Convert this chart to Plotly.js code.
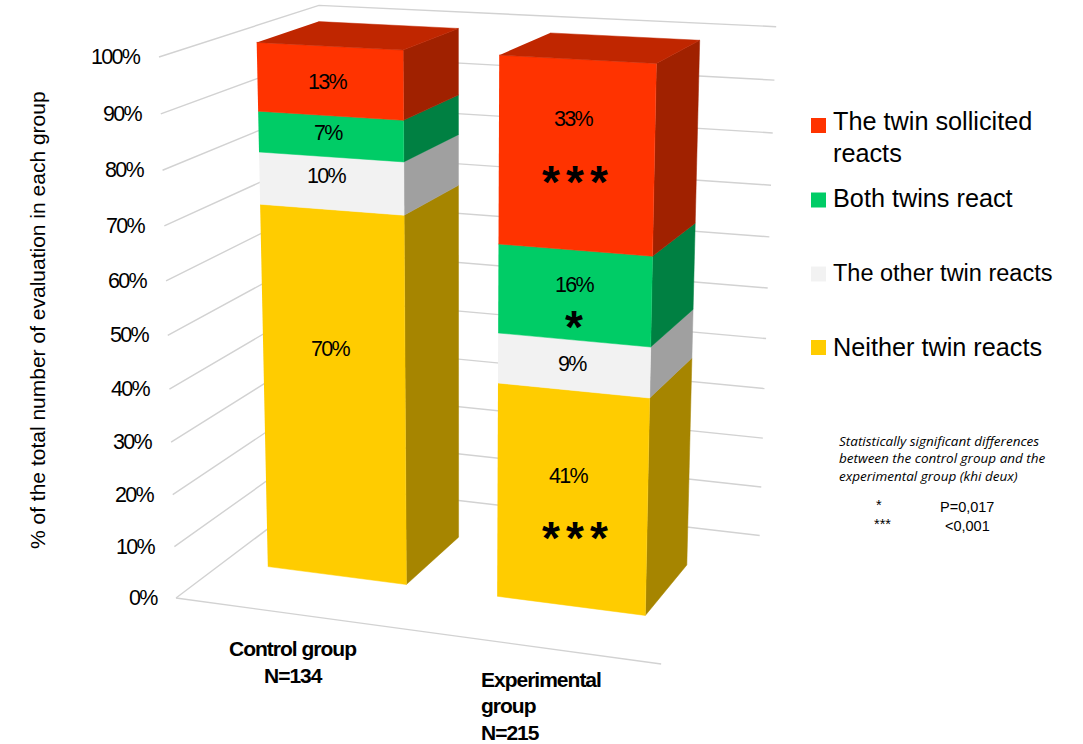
<!DOCTYPE html>
<html>
<head>
<meta charset="utf-8">
<script src="https://cdn.plot.ly/plotly-3.0.1.min.js"></script>
<style>html,body{margin:0;padding:0;background:#fff}#chart{width:1083px;height:744px}</style>
</head>
<body>
<div id="chart"></div>
<script>
// ---- data ----
const seriesNames = ['Neither twin reacts', 'The other twin reacts', 'Both twins react', 'The twin sollicited reacts'];
const controlValues = [70.3, 9.7, 7.5, 12.5];
const experimentalValues = [40.8, 9.3, 16.3, 33.6];
const controlLabels = ['70%', '10%', '7%', '13%'];
const experimentalLabels = ['41%', '9%', '16%', '33%'];
const percentTicks = [0, 10, 20, 30, 40, 50, 60, 70, 80, 90, 100];

// ---- style / layout constants ----
const frontColors = ['#FFCC00', '#F2F2F2', '#00CC66', '#FF3300'];
const sideColors = ['#A68500', '#A0A0A0', '#008042', '#A02100'];
const topColor = '#C02600';
const gridColor = '#D2D2D2';
const barCentres = [0.25, 0.75], barHalfWidth = 0.153, depthNear = 0.3, depthFar = 0.7;
const fontMain = '"Liberation Sans", Arial, sans-serif';
const tight = (s, px) => '<span style="letter-spacing:' + px + 'px">' + s + '</span>';

// Camera: X along the categories (0..1), T = percent / 100, Z depth (0..1)
function project(X, pct, Z) {
  const t = pct / 100;
  const w = -0.0674 * X + 0.134 * Z - 0.056 * t + 1;
  return [(440.6 * X + 193.7 * Z - 25.9 * t + 176) / w,
          (21.2 * X - 48 * Z - 544.2 * t + 598) / w];
}
function poly(points, color, name) {
  const p = points.map(a => project(a[0], a[1], a[2]));
  return {x: p.map(q => q[0]), y: p.map(q => q[1]), mode: 'lines', fill: 'toself', fillcolor: color,
          line: {color: color, width: 0.5}, hoverinfo: 'skip', showlegend: false, name: name};
}

const traces = [];
// wall grid lines
percentTicks.forEach(v => {
  const pts = [project(0, v, 0), project(0, v, 1), project(1, v, 1)];
  traces.push({x: pts.map(p => p[0]), y: pts.map(p => p[1]), mode: 'lines',
               line: {color: gridColor, width: 1.4}, hoverinfo: 'skip', showlegend: false});
});
const floorEdge = [project(0, 0, 0), project(1, 0, 0)];
traces.push({x: floorEdge.map(p => p[0]), y: floorEdge.map(p => p[1]), mode: 'lines',
             line: {color: gridColor, width: 1.4}, hoverinfo: 'skip', showlegend: false});

// stacked bars
const annotations = [];
const note = (x, y, text, size, extra) => annotations.push(Object.assign({
  x, y, xref: 'x', yref: 'y', text, showarrow: false, xanchor: 'center', yanchor: 'middle',
  font: {family: fontMain, size, color: '#000'}}, extra || {}));

const labelShiftY = [[47, 7, 3, -1], [23, 1, 10, 37]];
const labelShiftX = [-3, -4, -2, -2, -3, -1, 1, -2];
[controlValues, experimentalValues].forEach((vals, b) => {
  const x0 = barCentres[b] - barHalfWidth, x1 = barCentres[b] + barHalfWidth;
  let base = 0;
  vals.forEach((v, s) => {
    const top = base + v;
    traces.push(poly([[x1, base, depthNear], [x1, base, depthFar], [x1, top, depthFar], [x1, top, depthNear]],
                     sideColors[s], seriesNames[s]));
    traces.push(poly([[x0, base, depthNear], [x1, base, depthNear], [x1, top, depthNear], [x0, top, depthNear]],
                     frontColors[s], seriesNames[s]));
    const c = project(barCentres[b], (base + top) / 2, depthNear);
    note(c[0] + labelShiftX[b * 4 + s], c[1] - labelShiftY[b][s], tight((b ? experimentalLabels : controlLabels)[s], -1.7), 21.5);
    base = top;
  });
  traces.push(poly([[x0, base, depthNear], [x1, base, depthNear], [x1, base, depthFar], [x0, base, depthFar]],
                   topColor, 'Top'));
});

// percent ticks
percentTicks.forEach(v => {
  const p = project(0, v, 0);
  note(p[0] - 16, p[1], tight(v + '%', -1.7), 21.5, {xanchor: 'right'});
});

// significance stars on the experimental bar
const starRows = [[575, 175, 3], [574, 320, 1], [575, 531, 3]];
starRows.forEach(r => {
  for (let i = 0; i < r[2]; i++) {
    note(r[0] + (i - (r[2] - 1) / 2) * 24, r[1] + 7, '<b>*</b>', 46);
  }
});

// category labels
note(292, 648, '<b>' + tight('Control group', -1) + '</b>', 21);
note(293, 675, '<b>' + tight('N=134', -1) + '</b>', 21);
note(479, 679, '<b>' + tight('Experimental', -1) + '</b>', 21, {xanchor: 'left'});
note(479, 705, '<b>' + tight('group', -1) + '</b>', 21, {xanchor: 'left'});
note(479, 732, '<b>' + tight('N=215', -1) + '</b>', 21, {xanchor: 'left'});

// axis title
note(37, 320, '% of the total number of evaluation in each group', 21, {textangle: -90});

// legend (top to bottom)
const legendX = [818.5, 818.5, 818.5, 818.5];
const legendY = [347.5, 274, 200, 125.5];
seriesNames.forEach((n, s) => {
  traces.push({x: [legendX[s]], y: [legendY[s]], mode: 'markers', name: n, showlegend: false, hoverinfo: 'skip',
               marker: {symbol: 'square', size: 15, color: frontColors[s]}});
});
note(831, 121, 'The twin sollicited', 25.25, {xanchor: 'left'});
note(831, 153, 'reacts', 25.25, {xanchor: 'left'});
note(831, 198, 'Both twins react', 25.25, {xanchor: 'left'});
note(831, 273, 'The other twin reacts', 23.5, {xanchor: 'left'});
note(831, 347, 'Neither twin reacts', 25.25, {xanchor: 'left'});

// note block
const smallFont = {family: '"Open Sans", sans-serif', size: 13.5, color: '#000'};
[['Statistically significant differences', 441], ['between the control group and the', 458], ['experimental group (khi deux)', 476]].forEach(l => {
  note(837, l[1], '<i>' + l[0] + '</i>', 13.5, {xanchor: 'left', font: smallFont});
});
note(879, 505, '*', 14.5);
note(967, 507, 'P=0,017', 14.5);
note(882, 524, '***', 14.5);
note(967, 526, '&lt;0,001', 14.5);

Plotly.newPlot('chart', traces, {
  width: 1083, height: 744, margin: {l: 0, r: 0, t: 0, b: 0},
  paper_bgcolor: '#fff', plot_bgcolor: '#fff', showlegend: false,
  xaxis: {range: [0, 1083], visible: false, fixedrange: true},
  yaxis: {range: [744, 0], visible: false, fixedrange: true},
  annotations
}, {displayModeBar: false, staticPlot: true});
</script>
</body>
</html>
